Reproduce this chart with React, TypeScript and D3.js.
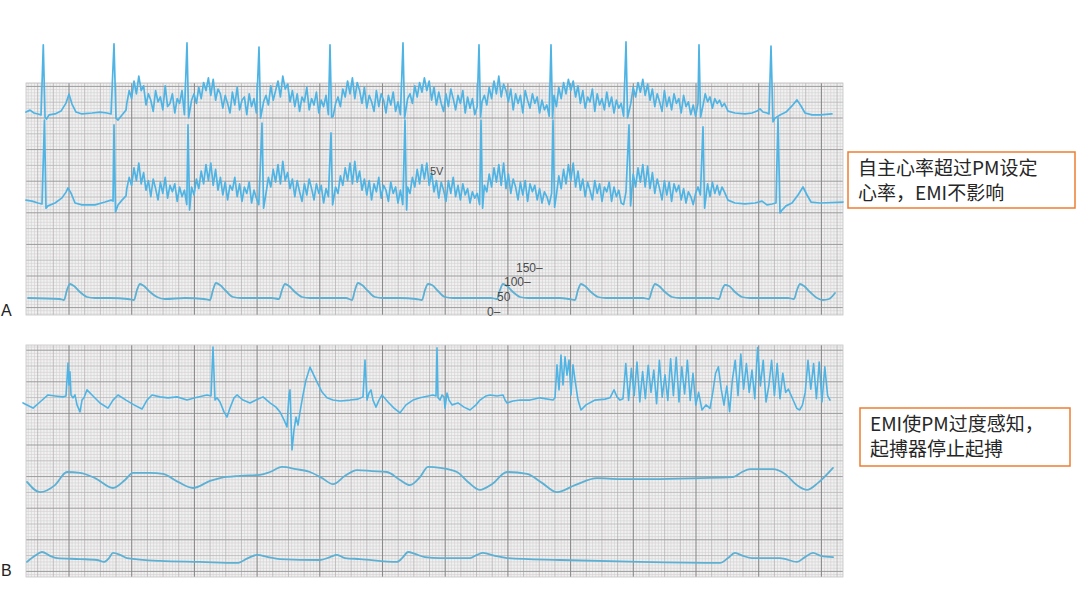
import React from "react";
import * as d3 from "d3";

// Recording strips: time in seconds (25 mm/s), ECG amplitude in mV (10 mm/mV),
// arterial pressure in mmHg.

type Pt = [number, number];
type Spike = [number, number, number]; // time, R peak, S trough

// ---------- Strip A, lead 1 ----------
const A1_LEAD_IN: Pt[] = [
  [0, 0.03], [0.05, 0.09], [0.1, 0], [0.15, -0.03], [0.188, -0.06], [0.216, 2.13], [0.238, -0.13],
  [0.256, -0.19], [0.288, -0.06], [0.363, -0.03], [0.438, 0.06], [0.5, 0.31], [0.538, 0.59],
  [0.575, 0.28], [0.625, 0.03], [0.7, -0.03], [0.825, 0], [0.925, 0.03], [1.013, 0], [1.063, -0.03],
  [1.1, 2.16], [1.125, -0.16], [1.15, -0.22], [1.2, -0.06], [1.25, 0.09],
];
const A1_EMI_START = 1.26;
const A1_EMI: number[] = [
  0.3, 0.7, 0.45, 1.0, 0.6, 1.15, 0.7, 0.85, 0.25, 0.6,
  0.4, 0.05, 0.7, 0.35, 0.5, 0.1, 0.85, 0.2, 0.3, 0.6,
  0.0, 0.45, 0.3, 0.7, -0.05, 0.2, -0.1, 0.4, 0.6, 0.3,
  0.8, 0.45, 0.95, 0.7, 1.1, 0.55, 1.05, 0.4, 0.75, 0.6,
  0.15, 0.55, 0.3, 0.0, 0.65, 0.25, 0.8, 0.1, 0.4, 0.5,
  -0.05, 0.6, 0.2, 0.45, 0.0, 0.15, -0.1, 0.35, 0.55, 0.25,
  0.85, 0.4, 0.7, 1.0, 0.5, 1.15, 0.75, 0.9, 0.35, 0.7,
  0.2, 0.6, 0.05, 0.5, 0.35, 0.8, 0.1, 0.45, 0.25, 0.65,
  0.0, 0.4, 0.2, 0.55, -0.05, 0.2, -0.1, 0.3, 0.5, 0.2,
  0.75, 0.5, 1.0, 0.6, 1.1, 0.45, 0.95, 0.7, 0.3, 0.8,
  0.15, 0.55, 0.35, 0.05, 0.7, 0.2, 0.6, 0.4, 0.0, 0.55,
  0.25, 0.65, 0.05, 0.35, -0.05, 0.15, -0.1, 0.45, 0.6, 0.3,
  0.85, 0.5, 0.95, 0.65, 1.1, 0.7, 1.0, 0.4, 0.8, 0.25,
  0.65, 0.3, 0.05, 0.6, 0.2, 0.75, 0.45, 0.1, 0.55, 0.3,
  0.7, 0.0, 0.5, 0.15, 0.45, -0.05, 0.2, -0.1, 0.35, 0.55,
  0.25, 0.8, 0.45, 1.0, 0.6, 1.15, 0.5, 0.9, 0.7, 0.35,
  0.75, 0.1, 0.6, 0.3, 0.55, 0.0, 0.7, 0.4, 0.15, 0.6,
  0.3, 0.5, 0.0, 0.4, 0.1, 0.25, -0.1, 0.3, 0.55, 0.2,
  0.8, 0.45, 0.95, 0.6, 1.05, 0.7, 1.0, 0.5, 0.85, 0.3,
  0.7, 0.15, 0.5, 0.35, 0.75, 0.05, 0.6, 0.25, 0.45, 0.1,
  0.65, 0.2, 0.5, 0.0, 0.4, 0.15, 0.3, -0.1, 0.35, 0.55,
  0.3, 0.8, 0.5, 0.95, 0.65, 1.05, 0.55, 0.9, 0.4, 0.75,
  0.2, 0.6, 0.35, 0.05, 0.7, 0.2, 0.5, 0.1, 0.6, 0.3,
  0.45, 0.0, 0.55, 0.2, 0.35, -0.05, 0.25, -0.1, 0.3, 0.5,
  0.2, 0.6, 0.35, 0.5, 0.15, 0.45, 0.3, 0.4, 0.2, 0.3,
];
const A1_QRS: Spike[] = [
  [2.0125, 2.19, -0.15], [2.9125, 2.06, -0.16], [3.8, 2.13, -0.13], [4.7125, 2.19, -0.16],
  [5.6625, 2.13, -0.13], [6.5625, 2.13, -0.16], [7.5, 2.22, -0.15], [8.4125, 2.13, -0.13],
];
const A1_LEAD_OUT: Pt[] = [
  [8.775, 0.06], [8.8625, 0], [8.9875, -0.03], [9.075, 0], [9.1375, 0.06], [9.175, 0.13],
  [9.2125, 0.03], [9.2625, 0], [9.2875, -0.03], [9.3125, 2.09], [9.3375, -0.28], [9.3625, -0.16],
  [9.425, -0.06], [9.5, 0.03], [9.575, 0.22], [9.6375, 0.41], [9.6875, 0.22], [9.7375, 0],
  [9.825, -0.06], [9.925, -0.06], [10.075, -0.03],
];

// ---------- Strip A, lead 2 ----------
const A2_LEAD_IN: Pt[] = [
  [0, 0.09], [0.075, 0.06], [0.15, 0], [0.2, -0.03], [0.231, 2.59], [0.25, -0.16], [0.275, -0.09],
  [0.363, 0], [0.45, 0.16], [0.5, 0.34], [0.525, 0.47], [0.563, 0.31], [0.613, 0], [0.7, -0.06],
  [0.863, -0.06], [0.988, 0.03], [1.063, 0.09], [1.088, 0.06], [1.1, 2.44], [1.119, -0.28],
  [1.15, -0.06], [1.2, 0.09], [1.25, 0.22],
];
const A2_EMI_START = 1.26;
const A2_EMI: number[] = [
  0.45, 0.8, 0.55, 1.1, 0.7, 1.25, 0.6, 0.95, 0.4, 0.7,
  0.2, 0.75, 0.45, 0.1, 0.65, 0.3, 0.8, 0.15, 0.55, 0.35,
  0.6, 0.05, 0.5, 0.2, 0.4, -0.05, 0.3, 0.5, 0.25, 0.75,
  0.45, 1.0, 0.6, 1.2, 0.7, 1.25, 0.55, 1.05, 0.4, 0.8,
  0.25, 0.65, 0.1, 0.55, 0.4, 0.8, 0.2, 0.6, 0.05, 0.5,
  0.3, 0.65, 0.0, 0.4, 0.15, -0.05, 0.35, 0.55, 0.3, 0.8,
  0.5, 1.05, 0.65, 1.2, 0.6, 1.3, 0.7, 0.95, 0.45, 0.75,
  0.2, 0.7, 0.35, 0.05, 0.6, 0.25, 0.75, 0.45, 0.1, 0.6,
  0.3, 0.55, 0.0, 0.45, 0.2, 0.35, 0.05, 0.5, 0.3, 0.85,
  0.55, 1.1, 0.7, 1.25, 0.6, 1.3, 0.65, 1.0, 0.4, 0.75,
  0.25, 0.7, 0.1, 0.6, 0.35, 0.8, 0.15, 0.55, 0.4, 0.05,
  0.65, 0.3, 0.5, 0.0, 0.4, -0.05, 0.25, 0.5, 0.3, 0.8,
  0.5, 1.05, 0.6, 1.2, 0.75, 1.25, 0.55, 0.95, 0.35, 0.7,
  0.15, 0.65, 0.4, 0.05, 0.7, 0.3, 0.8, 0.2, 0.55, 0.1,
  0.6, 0.25, 0.45, 0.0, 0.35, 0.15, 0.3, -0.05, 0.25, 0.55,
  0.35, 0.9, 0.5, 1.1, 0.65, 1.2, 0.55, 1.25, 0.45, 0.9,
  0.3, 0.75, 0.5, 0.1, 0.65, 0.25, 0.7, 0.05, 0.6, 0.35,
  0.55, 0.1, 0.45, 0.0, 0.35, 0.2, -0.05, 0.3, 0.5, 0.25,
  0.85, 0.45, 1.05, 0.6, 1.2, 0.7, 1.25, 0.5, 1.0, 0.4,
  0.75, 0.2, 0.65, 0.4, 0.1, 0.7, 0.3, 0.6, 0.05, 0.5,
  0.35, 0.65, 0.05, 0.5, 0.2, 0.4, 0.0, -0.05, 0.35, 0.55,
  0.3, 0.9, 0.5, 1.1, 0.65, 1.2, 0.5, 1.15, 0.45, 0.95,
  0.3, 0.75, 0.45, 0.1, 0.7, 0.25, 0.65, 0.05, 0.6, 0.35,
  0.55, 0.1, 0.45, 0.0, 0.35, 0.2, -0.05, 0.3, 0.5, 0.25,
  0.7, 0.35, 0.6, 0.2, 0.65, 0.3, 0.55, 0.25, 0.5, 0.35,
];
const A2_QRS: Spike[] = [
  [2.025, 2.44, -0.22], [2.95, 2.5, -0.16], [3.8125, 2.19, -0.06], [4.7375, 2.59, -0.22],
  [5.6875, 2.59, -0.16], [6.5875, 2.59, -0.13], [7.5375, 2.44, -0.09], [8.4625, 2.38, -0.16],
];
const A2_LEAD_OUT: Pt[] = [
  [8.775, 0.09], [8.8625, 0], [8.9875, -0.03], [9.1125, 0], [9.2, 0.06], [9.2625, -0.06],
  [9.325, -0.03], [9.375, 0], [9.4, 2.66], [9.425, -0.31], [9.45, -0.22], [9.5, -0.09],
  [9.575, 0], [9.65, 0.25], [9.7125, 0.5], [9.7625, 0.25], [9.8125, 0.03], [9.925, 0],
  [10.2125, 0.03],
];

// ---------- Strip A, arterial pressure (mmHg) ----------
const A_PRESSURE: Pt[] = [
  [0.025, 46.6],
  [0.425, 43.2], [0.475, 39.8], [0.5125, 73.8], [0.55, 94.2], [0.6, 87.4], [0.675, 67], [0.7625, 50], [0.8625, 46.6], [1.05, 46.6],
  [1.275, 43.2], [1.35, 39.8], [1.3875, 73.8], [1.425, 94.2], [1.475, 87.4], [1.55, 67], [1.6375, 50], [1.7375, 43.2], [1.9875, 46.6],
  [2.225, 43.2], [2.3, 39.8], [2.3375, 73.8], [2.375, 97.6], [2.425, 90.8], [2.5, 70.4], [2.5875, 50], [2.6875, 46.6], [2.925, 46.6],
  [3.075, 46.6], [3.1625, 43.2], [3.2, 73.8], [3.2375, 94.2], [3.2875, 87.4], [3.3625, 67], [3.45, 50], [3.55, 46.6], [3.8, 46.6],
  [4.0, 46.6], [4.075, 39.8], [4.1125, 73.8], [4.15, 97.6], [4.2, 90.8], [4.275, 70.4], [4.3625, 50], [4.4625, 46.6], [4.675, 46.6],
  [4.875, 43.2], [4.95, 39.8], [4.9875, 73.8], [5.025, 94.2], [5.075, 90.8], [5.15, 70.4], [5.2375, 50], [5.3375, 46.6], [5.675, 46.6],
  [5.8125, 46.6], [5.8875, 43.2], [5.925, 73.8], [5.9625, 94.2], [6.0125, 87.4], [6.0875, 67], [6.175, 50], [6.275, 46.6], [6.675, 46.6],
  [6.7875, 43.2], [6.8625, 39.8], [6.9, 73.8], [6.9375, 94.2], [6.9875, 87.4], [7.0625, 67], [7.15, 50], [7.25, 46.6], [7.55, 46.6],
  [7.7125, 46.6], [7.7875, 43.2], [7.825, 73.8], [7.8625, 94.2], [7.9125, 87.4], [7.9875, 67], [8.075, 50], [8.175, 46.6], [8.425, 46.6],
  [8.5875, 46.6], [8.6625, 43.2], [8.7, 73.8], [8.7375, 90.8], [8.7875, 87.4], [8.8625, 67], [8.95, 50], [9.05, 46.6], [9.4875, 46.6],
  [9.525, 46.6], [9.6, 43.2], [9.6375, 73.8], [9.675, 94.2], [9.725, 87.4], [9.8, 67], [9.8875, 46.6], [9.9625, 39.8], [10.0375, 43.2], [10.1125, 63.6],
];
const PRESSURE_TICKS = [0, 50, 100, 150];
const PRESSURE_TICK_TEXT = ["0–", "50", "100–", "150–"];

// ---------- Strip B, lead 1 (EMI oversensing) ----------
const B1_TRACE: Pt[] = [
  [-0.0375, -0.03], [0.0875, -0.19], [0.175, 0], [0.275, 0.22], [0.3625, 0.19], [0.4625, 0.16],
  [0.5, 0.19], [0.5125, 0.69], [0.525, 1.22], [0.5375, 0.53], [0.55, 0.94], [0.5625, 0.22],
  [0.5875, 0.13], [0.6125, 0.22], [0.6375, -0.09], [0.675, -0.31], [0.7, 0.06], [0.725, 0.13],
  [0.7625, 0.38], [0.825, 0.22], [0.925, -0.03], [1.025, -0.19], [1.0875, 0.06], [1.15, 0.22],
  [1.25, 0.06], [1.35, -0.09], [1.45, -0.22], [1.5125, 0.06], [1.575, 0.22], [1.675, 0.16],
  [1.775, 0.13], [1.8875, 0.16], [2.0125, 0.06], [2.1125, 0.13], [2.2625, 0.22], [2.3125, 0.19],
  [2.3375, 1.72], [2.3625, 0.06], [2.3875, 0.13], [2.425, 0], [2.475, -0.31], [2.5125, -0.47],
  [2.55, -0.19], [2.6, 0.13], [2.6375, 0.22], [2.7125, 0.06], [2.8, -0.03], [2.875, 0.06],
  [2.9625, 0.16], [3.05, -0.03], [3.125, -0.16], [3.175, -0.31], [3.225, -0.56], [3.2625, -0.78],
  [3.275, -0.25], [3.2875, 0.22], [3.3, 0.38], [3.3125, -0.56], [3.325, -1.5], [3.35, -0.88],
  [3.375, -0.47], [3.4, -0.72], [3.425, -0.31], [3.4625, 0.22], [3.5, 0.69], [3.55, 1.09],
  [3.625, 0.69], [3.7, 0.31], [3.7625, 0.13], [3.8375, 0.06], [3.925, 0.03], [4.05, 0.06],
  [4.15, 0.09], [4.2125, 0.16], [4.2375, 1.31], [4.2625, 0.06], [4.2875, 0.28], [4.3125, 0.38],
  [4.3375, 0.06], [4.375, -0.16], [4.4125, 0.06], [4.45, 0.22], [4.525, 0], [4.6, -0.19],
  [4.675, -0.34], [4.75, -0.09], [4.8375, 0.06], [4.925, 0.13], [5.0875, 0.22], [5.125, 0.19],
  [5.1375, 1.69], [5.15, 0.13], [5.175, 0.06], [5.2, 0.22], [5.225, 0.16], [5.2375, -0.19],
  [5.2625, 0.28], [5.2875, 0.06], [5.325, -0.09], [5.4, -0.03], [5.475, -0.16], [5.55, -0.25],
  [5.625, -0.09], [5.675, 0.06], [5.75, 0.19], [5.8, 0.22], [5.8875, 0.19], [5.9625, 0.22],
  [5.9875, 0.06], [6.0125, -0.03], [6.0875, 0.03], [6.175, 0.06], [6.3, 0.06], [6.425, 0.13],
  [6.5875, 0.06], [6.6125, 0.13], [6.6375, 1.16], [6.6625, 0.38], [6.6875, 1.47], [6.7125, 0.53],
  [6.7375, 1.41], [6.7625, 0.84], [6.7875, 1.31], [6.8125, 0.22], [6.8375, 1.16], [6.8625, 0.69],
  [6.9, 0.06], [6.9375, -0.25], [7.0, -0.09], [7.1125, 0.06], [7.2375, 0.09], [7.3, 0.13],
  [7.35, 0.38], [7.3875, 0.16], [7.425, 0.06],
  [8.45, -0.25], [8.5, -0.09],
  [10.05, 0.06],
];
const B1_BURST_STEP = 0.035;
const B1_BURST1_START = 7.4625;
const B1_BURST1: number[] = [
  0.1, 1.2, 0.05, 1.05, 0.2, 1.25, 0.0, 0.95, 0.1, 1.15, 0.3, 1.0, -0.05, 1.3,
  0.15, 0.85, 0.05, 1.35, 0.2, 1.4, 0.0, 1.1, 0.25, 1.3, 0.05, 0.9, -0.1, 0.3,
];
const B1_BURST2_START = 8.55;
const B1_BURST2: number[] = [
  -0.2, 0.3, 0.9, 1.1, 0.4, -0.1, 0.5, -0.3, 0.7, 1.3, 0.2, 1.5, 0.4, 1.2, 0.3,
  1.0, 0.1, 1.7, 0.5, 1.3, 0.0, 0.5, 1.3, 0.2, 1.2, 0.1, 0.9, 0.3, 0.4, 0.2,
  0.0, -0.2, -0.25, -0.1, 0.3, 1.3, 0.4, 1.2, 0.1, 1.25, 0.0, 1.1, 0.2,
];

// ---------- Strip B, slow channels ----------
const B2_TRACE: Pt[] = [
  [0.0125, -0.06], [0.175, -0.38], [0.3625, -0.16], [0.5125, 0.25], [0.675, 0.22], [0.8625, 0.06],
  [1.0875, -0.25], [1.2375, 0], [1.3375, 0.22], [1.55, 0.22], [1.7125, 0.19], [1.9, -0.06],
  [2.0875, -0.25], [2.3, -0.03], [2.425, 0.06], [2.675, 0.13], [2.925, 0.16], [3.05, 0.25],
  [3.2, 0.41], [3.375, 0.34], [3.55, 0.25], [3.7, 0.06], [3.8375, -0.13], [3.9875, 0.13],
  [4.1375, 0.31], [4.325, 0.28], [4.5125, 0.25], [4.675, 0], [4.8, -0.16], [4.925, 0.09],
  [5.025, 0.41], [5.175, 0.38], [5.3875, 0.25], [5.525, -0.06], [5.675, -0.31], [5.825, -0.13],
  [6.0125, 0.25], [6.2625, 0.19], [6.45, -0.09], [6.6375, -0.38], [6.8625, -0.16], [7.1375, 0.06],
  [7.425, 0.03], [7.8375, 0.03], [8.425, 0.06], [8.8375, 0.09], [8.95, 0.25], [9.05, 0.34],
  [9.3375, 0.34], [9.4875, 0.19], [9.6375, -0.16], [9.7625, -0.31], [9.9, -0.09], [10.0875, 0.38],
];
const B3_TRACE: Pt[] = [
  [0.0125, -0.06], [0.1125, 0.13], [0.2, 0.25], [0.3, 0.13], [0.3875, 0.06], [0.675, 0.03],
  [0.8875, 0], [0.975, -0.06], [1.0375, 0.06], [1.0875, 0.22], [1.175, 0.16], [1.2625, 0.06],
  [1.675, -0.03], [2.175, -0.06], [2.6375, -0.09], [2.775, 0.06], [2.8875, 0.16], [3.025, 0.09],
  [3.175, 0.03], [3.675, 0], [3.8, 0.09], [3.8875, 0.16], [3.9875, 0.06], [4.175, 0.03],
  [4.6375, -0.06], [4.7125, 0.09], [4.775, 0.25], [4.8625, 0.19], [4.9875, 0.09], [5.175, 0.06],
  [5.55, 0.06], [5.6375, 0.16], [5.7125, 0.22], [5.8625, 0.13], [6.0125, 0.06], [6.675, 0],
  [7.675, -0.06], [8.675, -0.09], [8.775, 0.06], [8.8625, 0.22], [8.9625, 0.13], [9.075, 0.06],
  [9.425, 0.06], [9.6375, -0.06], [9.7375, 0.09], [9.8375, 0.22], [9.9375, 0.13], [10.0875, 0.09],
];

const NOTE_A = ["自主心率超过PM设定", "心率，EMI不影响"];
const NOTE_B = ["EMI使PM过度感知，", "起搏器停止起搏"];

// ---------- helpers ----------
const byTime = (a: Pt, b: Pt) => a[0] - b[0];

function sampled(start: number, step: number, values: number[]): Pt[] {
  return values.map((v, i) => [start + i * step, v] as Pt);
}

function withSpikes(base: Pt[], spikes: Spike[]): Pt[] {
  const kept = base.filter(([t]) => !spikes.some(([s]) => t > s - 0.012 && t < s + 0.032));
  const extra: Pt[] = [];
  spikes.forEach(([s, top, bottom]) => {
    extra.push([s, top]);
    extra.push([s + 0.02, bottom]);
  });
  return kept.concat(extra).sort(byTime);
}

const W = 1080;
const H = 607;
const X_LEFT = 26;
const X_RIGHT = 843;
const SECONDS = 10.2125;

const x = d3.scaleLinear().domain([0, SECONDS]).range([X_LEFT, X_RIGHT]);
const MV_PX = 32;
const mvScale = (baseline: number) => d3.scaleLinear().domain([0, 1]).range([baseline, baseline - MV_PX]);

const yA1 = mvScale(113);
const yA2 = mvScale(203);
const yP = d3.scaleLinear().domain([0, 150]).range([311.7, 267.6]);
const yB1 = mvScale(402);
const yB2 = mvScale(480);
const yB3 = mvScale(560);

function Paper({ x0, x1, y0, y1, vRef, hRef }: { x0: number; x1: number; y0: number; y1: number; vRef: number; hRef: number }) {
  const cw = 3.135;
  const ch = 3.16;
  const vk = d3.range(Math.ceil((x0 - vRef) / cw), Math.floor((x1 - vRef) / cw) + 1);
  const hk = d3.range(Math.ceil((y0 - hRef) / ch), Math.floor((y1 - hRef) / ch) + 1);
  const mod = (a: number, n: number) => ((a % n) + n) % n;
  const vert = (k: number) => {
    const px = vRef + k * cw;
    if (mod(k, 20) === 0) return { px, c: "#8a8a8a", w: 1.1, o: 2 };
    if (mod(k, 5) === 0) return { px, c: "#b6b3b5", w: 0.8, o: 1 };
    return { px, c: mod(k, 2) ? "#d6cfd2" : "#d1d5d3", w: 0.65, o: 0 };
  };
  const horiz = (k: number) => {
    const py = hRef + k * ch;
    if (mod(k, 10) === 0) return { py, c: "#9b9b9b", w: 1.0, o: 2 };
    if (mod(k, 5) === 0) return { py, c: "#b8b6b7", w: 0.8, o: 1 };
    return { py, c: mod(k, 2) ? "#d6cfd2" : "#d1d5d3", w: 0.65, o: 0 };
  };
  const vs = vk.map(vert);
  const hs = hk.map(horiz);
  return (
    <g>
      <rect x={x0} y={y0} width={x1 - x0} height={y1 - y0} fill="#f2f1f1" />
      {[0, 1, 2].map((order) => (
        <g key={order}>
          {hs.filter((h) => h.o === order).map((h, i) => (
            <line key={"h" + i} x1={x0} x2={x1} y1={h.py} y2={h.py} stroke={h.c} strokeWidth={h.w} />
          ))}
          {vs.filter((v) => v.o === order).map((v, i) => (
            <line key={"v" + i} x1={v.px} x2={v.px} y1={y0} y2={y1} stroke={v.c} strokeWidth={v.w} />
          ))}
        </g>
      ))}
      <rect x={x0} y={y0} width={x1 - x0} height={y1 - y0} fill="none" stroke="#c4c4c4" strokeWidth={0.8} />
    </g>
  );
}

function Trace({ pts, y, color, width, smooth }: { pts: Pt[]; y: d3.ScaleLinear<number, number>; color: string; width: number; smooth?: boolean }) {
  const gen = d3
    .line<Pt>()
    .x((d) => x(d[0]))
    .y((d) => y(d[1]))
    .curve(smooth ? d3.curveMonotoneX : d3.curveLinear);
  return (
    <path d={gen(pts) || ""} fill="none" stroke={color} strokeWidth={width} strokeLinejoin="round" strokeLinecap="round" />
  );
}

function Note({ x0, y0, w, h, lines, gap }: { x0: number; y0: number; w: number; h: number; lines: string[]; gap: number }) {
  return (
    <g>
      <rect x={x0} y={y0} width={w} height={h} fill="#ffffff" stroke="#ed7d31" strokeWidth={1.5} />
      {lines.map((s, i) => (
        <text
          key={i}
          x={x0 + 10}
          y={y0 + 23 + i * gap}
          fontSize={19}
          fill="#262626"
          fontFamily="'Noto Sans CJK SC', 'Noto Sans', sans-serif"
        >
          {s}
        </text>
      ))}
    </g>
  );
}

export default function App() {
  const a1 = withSpikes(A1_LEAD_IN.concat(sampled(A1_EMI_START, 0.03, A1_EMI), A1_LEAD_OUT), A1_QRS);
  const a2 = withSpikes(A2_LEAD_IN.concat(sampled(A2_EMI_START, 0.03, A2_EMI), A2_LEAD_OUT), A2_QRS);
  const b1 = B1_TRACE.concat(
    sampled(B1_BURST1_START, B1_BURST_STEP, B1_BURST1),
    sampled(B1_BURST2_START, B1_BURST_STEP, B1_BURST2)
  ).sort(byTime);

  const ecgColor = "#4fb4e4";
  const slowColor = "#5cb0d4";
  const tickX = [0, 10, 17, 29];

  return (
    <div style={{ position: "fixed", left: 0, top: 0, width: W, height: H, background: "#ffffff" }}>
      <svg width={W} height={H} viewBox={`0 0 ${W} ${H}`} style={{ display: "block" }}>
        <rect width={W} height={H} fill="#ffffff" />
        <Paper x0={X_LEFT} x1={X_RIGHT} y0={83} y1={315} vRef={69} hRef={118} />
        <Paper x0={X_LEFT} x1={X_RIGHT} y0={345} y1={577} vRef={69} hRef={445} />

        {/* strip A */}
        <Trace pts={A_PRESSURE} y={yP} color={slowColor} width={1.8} smooth />
        {PRESSURE_TICKS.map((p, i) => (
          <text
            key={p}
            x={487 + tickX[i]}
            y={yP(p) + 4}
            fontSize={12}
            fill="#4a4a4a"
            fontFamily="'Liberation Sans', Arial, sans-serif"
          >
            {PRESSURE_TICK_TEXT[i]}
          </text>
        ))}
        <Trace pts={a1} y={yA1} color={ecgColor} width={1.7} />
        <Trace pts={a2} y={yA2} color={ecgColor} width={1.7} />
        <text x={430} y={yA2(0.88)} fontSize={11} fill="#4a4a4a" fontFamily="'Liberation Sans', Arial, sans-serif">
          5V
        </text>

        {/* strip B */}
        <Trace pts={B2_TRACE} y={yB2} color={slowColor} width={1.8} smooth />
        <Trace pts={B3_TRACE} y={yB3} color={slowColor} width={1.8} smooth />
        <Trace pts={b1} y={yB1} color={ecgColor} width={1.6} />

        <text x={1} y={316} fontSize={16} fill="#222" fontFamily="'Liberation Sans', Arial, sans-serif">A</text>
        <text x={1} y={576} fontSize={16} fill="#222" fontFamily="'Liberation Sans', Arial, sans-serif">B</text>

        <Note x0={848} y0={152} w={227} h={56} lines={NOTE_A} gap={25} />
        <Note x0={860} y0={408} w={210} h={58} lines={NOTE_B} gap={25} />
      </svg>
    </div>
  );
}
